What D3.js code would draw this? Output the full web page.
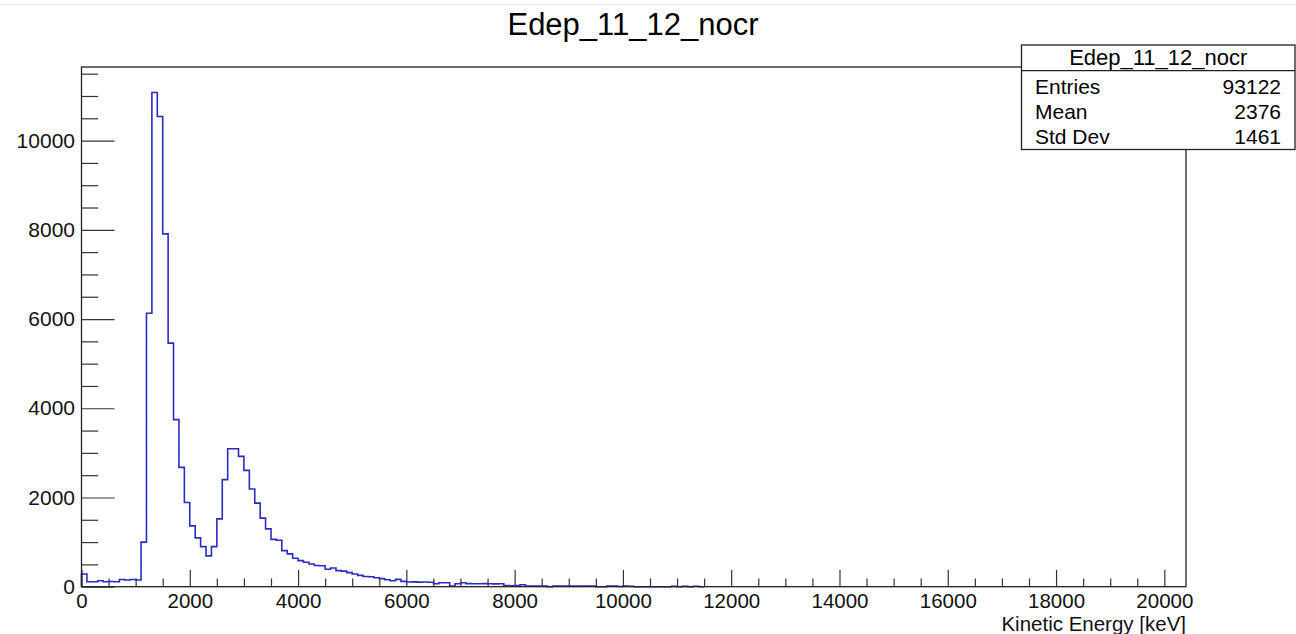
<!DOCTYPE html>
<html>
<head>
<meta charset="utf-8">
<script src="https://cdn.jsdelivr.net/npm/d3@7"></script>
<style>
  body { margin: 0; background: #fff; }
  svg { display: block; font-family: "Liberation Sans", Arial, Helvetica, sans-serif; }
</style>
</head>
<body>
<svg id="plot" width="1296" height="634"></svg>
<script>
// histogram Edep_11_12_nocr, 100 keV bins starting at 0
const binWidth = 100
const counts = [
  285, 112, 112, 135, 112, 115, 110, 160, 150, 160,
  150, 1000, 6130, 11080, 10540, 7910, 5460, 3745, 2674, 1888,
  1364, 1095, 899, 690, 899, 1520, 2400, 3094, 3094, 2921,
  2607, 2189, 1874, 1537, 1297, 1060, 1040, 809, 735, 638,
  584, 548, 510, 475, 470, 391, 420, 360, 350, 315,
  285, 255, 228, 222, 200, 180, 157, 135, 165, 120,
  105, 108, 102, 105, 100, 67, 90, 88, 15, 67,
  90, 70, 67, 65, 68, 66, 64, 65, 25, 22,
  25, 45, 15, 14, 16, 12, 0, 14, 15, 12,
  16, 13, 15, 12, 14, 0, 0, 14, 12, 4,
  12, 10, 0, 0, 0, 0, 0, 0, 0, 10,
  0, 10, 0, 10, 0
]
const xMajor = [0, 2000, 4000, 6000, 8000, 10000, 12000, 14000, 16000, 18000, 20000]
const yMajor = [0, 2000, 4000, 6000, 8000, 10000]
const statsLabels = ["Entries", "Mean", "Std Dev"]
const statsValues = ["93122", "2376", "1461"]
const histName = "Edep_11_12_nocr"
const xTitle = "Kinetic Energy [keV]"

const svg = d3.select("#plot")

const frame = { left: 81.5, right: 1186, top: 67, bottom: 586.7 }

const x = d3.scaleLinear().domain([0, 20400]).range([frame.left, frame.right])
const y = d3.scaleLinear().domain([0, 11650]).range([frame.bottom, frame.top])

// thin gray line at the top of the canvas
svg.append("line")
  .attr("x1", 0).attr("x2", 1296).attr("y1", 4.5).attr("y2", 4.5)
  .attr("stroke", "#e3e3e3")

// title
svg.append("text")
  .attr("x", 633).attr("y", 35)
  .attr("text-anchor", "middle")
  .attr("font-size", 31)
  .attr("fill", "#000")
  .text(histName)

// minor ticks every 500
let xMinor = d3.range(0, 20401, 500).filter(v => v % 2000 != 0)
let yMinor = d3.range(0, 11650, 500).filter(v => v % 2000 != 0)

svg.append("g")
  .attr("transform", `translate(0,${frame.bottom})`)
  .call(d3.axisBottom(x).tickValues(xMinor).tickSize(-8.3).tickFormat(""))
svg.append("g")
  .attr("class", "xaxis")
  .attr("transform", `translate(0,${frame.bottom})`)
  .call(d3.axisBottom(x).tickValues(xMajor).tickSize(-16.7).tickPadding(6.5).tickFormat(d3.format("d")))

svg.append("g")
  .attr("transform", `translate(${frame.left},0)`)
  .call(d3.axisLeft(y).tickValues(yMinor).tickSize(-16.7).tickFormat(""))
svg.append("g")
  .attr("class", "yaxis")
  .attr("transform", `translate(${frame.left},0)`)
  .call(d3.axisLeft(y).tickValues(yMajor).tickSize(-33).tickPadding(6.5).tickFormat(d3.format("d")))

svg.selectAll(".domain").remove()
svg.selectAll(".tick line").attr("stroke", "#333").attr("stroke-width", 1.2)
svg.selectAll(".tick text")
  .attr("font-size", 21)
  .attr("fill", "#111")
  .attr("font-family", "Liberation Sans, Arial, Helvetica, sans-serif")
svg.selectAll(".xaxis .tick text").attr("font-size", 20.5)

// histogram outline as steps
let pts = [[0, 0]]
counts.forEach((c, i) => pts.push([i * binWidth, c]))
pts.push([counts.length * binWidth, counts[counts.length - 1]])

let line = d3.line()
  .x(p => x(p[0]))
  .y(p => y(p[1]))
  .curve(d3.curveStepAfter)

svg.append("path")
  .attr("d", line(pts))
  .attr("fill", "none")
  .attr("stroke", "#2b2bc4")
  .attr("stroke-width", 1.6)

// frame
svg.append("rect")
  .attr("x", frame.left).attr("y", frame.top)
  .attr("width", frame.right - frame.left)
  .attr("height", frame.bottom - frame.top)
  .attr("fill", "none")
  .attr("stroke", "#222")
  .attr("stroke-width", 1.3)

// axis title
svg.append("text")
  .attr("x", frame.right).attr("y", 631)
  .attr("text-anchor", "end")
  .attr("font-size", 20.5)
  .attr("fill", "#111")
  .text(xTitle)

// stats box
const box = { left: 1021.5, right: 1295, top: 45, bottom: 149.5, header: 70.7 }
let stats = svg.append("g")
stats.append("rect")
  .attr("x", box.left).attr("y", box.top)
  .attr("width", box.right - box.left).attr("height", box.bottom - box.top)
  .attr("fill", "#fff")
  .attr("stroke", "#222")
  .attr("stroke-width", 1.3)
stats.append("line")
  .attr("x1", box.left).attr("x2", box.right)
  .attr("y1", box.header).attr("y2", box.header)
  .attr("stroke", "#222").attr("stroke-width", 1.3)
stats.append("text")
  .attr("x", (box.left + box.right) / 2).attr("y", 65)
  .attr("text-anchor", "middle")
  .attr("font-size", 22)
  .text(histName)

const rowY = [93.5, 119, 144]
statsLabels.forEach((lab, i) => {
  stats.append("text")
    .attr("x", 1035).attr("y", rowY[i])
    .attr("font-size", 21)
    .text(lab)
  stats.append("text")
    .attr("x", 1281).attr("y", rowY[i])
    .attr("text-anchor", "end")
    .attr("font-size", 21)
    .text(statsValues[i])
})
</script>
</body>
</html>
